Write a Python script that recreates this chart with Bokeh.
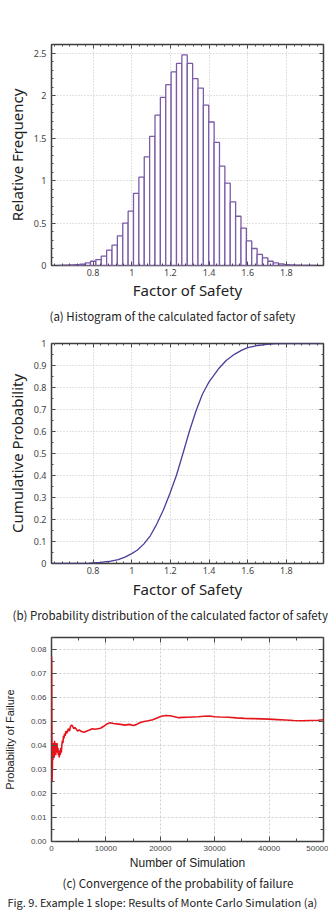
import numpy as np
from bokeh.plotting import figure
from bokeh.layouts import column
from bokeh.models import (LinearAxis, FixedTicker, CustomJSTickFormatter,
                          PrintfTickFormatter, Title, Range1d)
from bokeh.embed import file_html
from bokeh.resources import INLINE

# ---- (a) histogram of the factor of safety ----
bin_start = 0.62
bin_width = 0.0278
rel_freq = [
    0.002, 0.003, 0.006, 0.01, 0.015, 0.03, 0.05, 0.07, 0.11, 0.18,
    0.24, 0.35, 0.50, 0.64, 0.85, 1.04, 1.28, 1.52, 1.77, 1.98,
    2.13, 2.28, 2.38, 2.48, 2.38, 2.20, 2.09, 1.89, 1.69, 1.45,
    1.17, 0.97, 0.75, 0.58, 0.44, 0.29, 0.20, 0.13, 0.09, 0.05,
    0.03, 0.02, 0.01, 0.006, 0.004, 0.002, 0.001, 0.001,
]

# ---- (b) cumulative distribution of the factor of safety ----
fs_points = [0.585, 0.70, 0.78, 0.84, 0.88, 0.93, 0.965, 1.00, 1.028, 1.062,
             1.096, 1.129, 1.163, 1.197, 1.231, 1.265, 1.298, 1.331, 1.365, 1.40,
             1.449, 1.49, 1.533, 1.57, 1.60, 1.65, 1.70, 1.75, 1.80, 1.99]
cum_prob = [0.0, 0.0003, 0.0015, 0.005, 0.009, 0.018, 0.029, 0.045, 0.060, 0.088,
            0.126, 0.178, 0.242, 0.317, 0.400, 0.500, 0.600, 0.690, 0.768, 0.826,
            0.885, 0.924, 0.952, 0.970, 0.981, 0.991, 0.996, 0.999, 1.0, 1.0]

# ---- (c) convergence of the probability of failure ----
n_sim = [20, 60, 100, 150, 200, 260, 320, 380, 440, 500,
         560, 620, 700, 780, 860, 940, 1020, 1100, 1180, 1260,
         1340, 1420, 1500, 1600, 1700, 1800, 1900, 2000, 2100, 2200,
         2300, 2400, 2500, 2650, 2800, 2950, 3100, 3300, 3500, 3700,
         3900, 4100, 4300, 4500, 4800, 5100, 5500, 6000, 6500, 7000,
         7500, 8000, 8500, 9000, 9600, 10200, 10800, 11400, 12000, 12700,
         13500, 14300, 15000, 15600, 16200, 17000, 17800, 18600, 19400, 20200,
         21000, 21800, 22600, 23400, 24200, 25000, 26000, 27000, 28000, 29000,
         30000, 31000, 32500, 34000, 35500, 37000, 38500, 40000, 41500, 43000,
         44500, 46000, 47500, 49000, 50000]
pf = [0.077, 0.050, 0.025, 0.030, 0.038, 0.034, 0.041, 0.036, 0.040, 0.035,
      0.042, 0.037, 0.041, 0.036, 0.040, 0.038, 0.041, 0.037, 0.039, 0.036,
      0.038, 0.035, 0.038, 0.036, 0.039, 0.037, 0.040, 0.042, 0.041, 0.044,
      0.043, 0.045, 0.044, 0.046, 0.045, 0.046, 0.047, 0.046, 0.048, 0.0485,
      0.048, 0.047, 0.0475, 0.047, 0.046, 0.0465, 0.0458, 0.0455, 0.046, 0.0465,
      0.047, 0.0468, 0.047, 0.0472, 0.048, 0.049, 0.0495, 0.0492, 0.049, 0.0488,
      0.0485, 0.0488, 0.0483, 0.0487, 0.0495, 0.050, 0.0503, 0.0507, 0.0515, 0.0522,
      0.0525, 0.0524, 0.052, 0.0516, 0.0517, 0.0518, 0.0519, 0.052, 0.0522, 0.0523,
      0.052, 0.0519, 0.0518, 0.0515, 0.0513, 0.0512, 0.0511, 0.051, 0.0508, 0.0506,
      0.0504, 0.0503, 0.0504, 0.0505, 0.0507]

# tick positions
fs_ticks = [0.8, 1, 1.2, 1.4, 1.6, 1.8]
hist_yticks = [0, 0.5, 1, 1.5, 2, 2.5]
cdf_yticks = [0, 0.1, 0.2, 0.3, 0.4, 0.5, 0.6, 0.7, 0.8, 0.9, 1]
n_ticks = [0, 10000, 20000, 30000, 40000, 50000]
pf_ticks = [0.0, 0.01, 0.02, 0.03, 0.04, 0.05, 0.06, 0.07, 0.08]

CAPTION_FONT = "Noto Sans CJK KR"
LABEL_FONT = "Noto Sans"
FRAME = "#3c3c3c"
TICK = "#4a4a4a"

plain = CustomJSTickFormatter(code="return String(tick);")
blank = CustomJSTickFormatter(code="return '';")


def minor(lo, hi, step):
    return list(np.round(np.arange(lo, hi + step / 2, step), 6))


def dress(p, xt, yt, xfmt, yfmt, tick_font, tick_size, grid_dash, grid_color,
          maj_in=4, min_in=2):
    """Inward ticks on all four sides, no axis lines, a closed frame."""
    p.outline_line_color = FRAME
    p.outline_line_width = 1.5
    bx, ly = p.below[0], p.left[0]
    bx.ticker, bx.formatter = xt, xfmt
    ly.ticker, ly.formatter = yt, yfmt
    p.add_layout(LinearAxis(ticker=xt, formatter=blank, major_label_standoff=0), "above")
    p.add_layout(LinearAxis(ticker=yt, formatter=blank, major_label_standoff=0), "right")
    for ax in p.axis:
        ax.axis_line_color = None
        ax.major_tick_in = maj_in
        ax.major_tick_out = 0
        ax.minor_tick_in = min_in
        ax.minor_tick_out = 0
        ax.major_tick_line_color = TICK
        ax.minor_tick_line_color = TICK
        ax.major_label_text_font = tick_font
        ax.major_label_text_font_size = tick_size
        ax.major_label_text_color = "#444444"
        ax.axis_label_text_font_style = "normal"
    p.xgrid.ticker = xt
    p.ygrid.ticker = yt
    for g in (p.xgrid[0], p.ygrid[0]):
        g.grid_line_color = grid_color
        g.grid_line_dash = grid_dash
        g.grid_line_width = 1
    return bx, ly


def caption(p, text, offset, size="11.5px", standoff=6, font=CAPTION_FONT):
    p.add_layout(Title(text=text, align="left", offset=offset, standoff=standoff,
                       text_font=font, text_font_size=size, text_font_style="normal",
                       text_color="#222222"), "below")


# ---------------- (a) histogram ----------------
p1 = figure(width=328, height=328, output_backend="svg", toolbar_location=None,
            x_range=Range1d(0.585, 1.992), y_range=Range1d(0, 2.603),
            min_border_top=44, min_border_left=45, min_border_right=4,
            min_border_bottom=63, background_fill_color="white")
bx, ly = dress(p1, FixedTicker(ticks=fs_ticks, minor_ticks=minor(0.6, 2.0, 0.04)),
               FixedTicker(ticks=hist_yticks, minor_ticks=minor(0, 2.6, 0.1)),
               plain, plain, LABEL_FONT, "9px", "1 2", "#c4c4c4")
edges = bin_start + bin_width * np.arange(len(rel_freq) + 1)
p1.quad(left=edges[:-1], right=edges[1:], bottom=0, top=rel_freq,
        fill_color="white", line_color="#7b5aa6", line_width=1.3)
bx.axis_label = "Factor of Safety"
ly.axis_label = "Relative Frequency"
for ax in (bx, ly):
    ax.axis_label_text_font = LABEL_FONT
    ax.axis_label_text_font_size = "15px"
    ax.axis_label_text_color = "#222222"
bx.major_label_standoff = 3
bx.axis_label_standoff = 1
ly.major_label_standoff = 5
ly.axis_label_standoff = 4
caption(p1, "(a) Histogram of the calculated factor of safety", -2)

# ---------------- (b) cumulative probability ----------------
p2 = figure(width=328, height=300, output_backend="svg", toolbar_location=None,
            x_range=Range1d(0.585, 1.992), y_range=Range1d(0, 1),
            min_border_top=15, min_border_left=45, min_border_right=4,
            min_border_bottom=65, background_fill_color="white")
bx, ly = dress(p2, FixedTicker(ticks=fs_ticks, minor_ticks=minor(0.6, 2.0, 0.04)),
               FixedTicker(ticks=cdf_yticks, minor_ticks=minor(0, 1, 0.05)),
               plain, plain, LABEL_FONT, "9px", "1 2", "#c4c4c4")
p2.line(fs_points, cum_prob, line_color="#4b3d9b", line_width=1.3)
bx.axis_label = "Factor of Safety"
ly.axis_label = "Cumulative Probability"
for ax in (bx, ly):
    ax.axis_label_text_font = LABEL_FONT
    ax.axis_label_text_font_size = "15px"
    ax.axis_label_text_color = "#222222"
bx.major_label_standoff = 3
bx.axis_label_standoff = 2
ly.major_label_standoff = 5
ly.axis_label_standoff = 4
caption(p2, "(b) Probability distribution of the calculated factor of safety", -39)

# ---------------- (c) convergence ----------------
p3 = figure(width=328, height=282, output_backend="svg", toolbar_location=None,
            x_range=Range1d(0, 50000), y_range=Range1d(0, 0.085),
            min_border_top=9, min_border_left=45, min_border_right=5,
            min_border_bottom=69, background_fill_color="white")
bx, ly = dress(p3, FixedTicker(ticks=n_ticks, minor_ticks=minor(0, 50000, 5000)),
               FixedTicker(ticks=pf_ticks, minor_ticks=minor(0, 0.085, 0.005)),
               PrintfTickFormatter(format="%d"), PrintfTickFormatter(format="%.2f"),
               "Liberation Sans", "8px", "2 2", "#cfcfcf", maj_in=5, min_in=3)
p3.line(n_sim, pf, line_color="#e5161b", line_width=1.6)
bx.axis_label = "Number of Simulation"
ly.axis_label = "Probability of Failure"
for ax, s in ((bx, "12px"), (ly, "11px")):
    ax.axis_label_text_font = "Liberation Sans"
    ax.axis_label_text_font_size = s
    ax.axis_label_text_color = "#222222"
bx.major_label_standoff = 4
bx.axis_label_standoff = 2
ly.major_label_standoff = 5
ly.axis_label_standoff = 12
caption(p3, "(c) Convergence of the probability of failure", 11, standoff=1)
caption(p3, "Fig. 9. Example 1 slope: Results of Monte Carlo Simulation (a)",
        -44, size="11px", standoff=0)

layout = column(p1, p2, p3, spacing=0)
open("out.html", "w").write(file_html(layout, INLINE))
